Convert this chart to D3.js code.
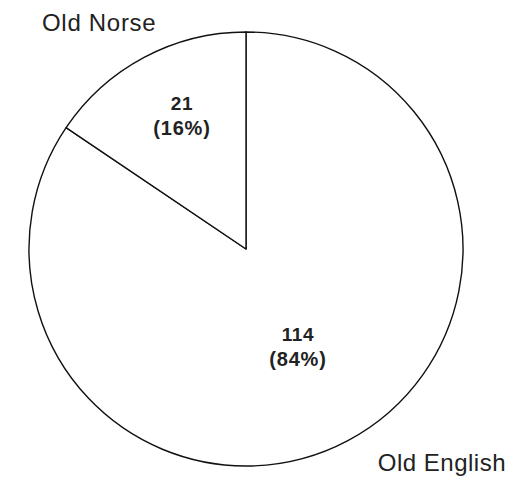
<!DOCTYPE html>
<html>
<head>
<meta charset="utf-8">
<script src="https://cdn.jsdelivr.net/npm/d3@7"></script>
<style>
  body { margin: 0; background: #fff; }
  text { font-family: "Liberation Sans", Arial, sans-serif; fill: #222; }
</style>
</head>
<body>
<div id="chart"></div>
<script>
// data
var categories = ["Old English", "Old Norse"];
var counts = [114, 21];
var percentLabels = ["84%", "16%"];

var width = 521, height = 479;
var cx = 246, cy = 249, radius = 217;

var svg = d3.select('#chart')
    .append('svg')
    .attr('width', width)
    .attr('height', height);

var g = svg.append('g')
    .attr('transform', 'translate(' + cx + ',' + cy + ')');

var pie = d3.pie().sort(null).value(function (d) { return d; });
var arcs = pie(counts);

var arc = d3.arc().innerRadius(0).outerRadius(radius);

g.selectAll('path.slice')
    .data(arcs)
    .enter()
    .append('path')
    .attr('class', 'slice')
    .attr('d', arc)
    .attr('fill', '#fff')
    .attr('stroke', '#111')
    .attr('stroke-width', 1.4)
    .attr('stroke-linejoin', 'round');

// value labels inside slices (radius fraction + small angle nudge per slice)
var labelRadius = [0.51, 0.68];
var labelNudge = [0, 0.04];
var lbl = g.selectAll('g.lbl')
    .data(arcs)
    .enter()
    .append('g')
    .attr('class', 'lbl')
    .attr('transform', function (d, i) {
        var a = (d.startAngle + d.endAngle) / 2 + labelNudge[i];
        var r = radius * labelRadius[i];
        return 'translate(' + (Math.sin(a) * r) + ',' + (-Math.cos(a) * r) + ')';
    });

lbl.append('text')
    .attr('text-anchor', 'middle')
    .attr('y', -6)
    .attr('font-size', 19)
    .attr('font-weight', 'bold')
    .attr('letter-spacing', 0.6)
    .text(function (d, i) { return counts[i]; });

lbl.append('text')
    .attr('text-anchor', 'middle')
    .attr('y', 19)
    .attr('font-size', 20)
    .attr('font-weight', 'bold')
    .attr('letter-spacing', 0.8)
    .text(function (d, i) { return '(' + percentLabels[i] + ')'; });

// category names outside the pie
svg.append('text')
    .attr('x', 42)
    .attr('y', 31)
    .attr('font-size', 24)
    .attr('letter-spacing', 0.7)
    .text(categories[1]);

svg.append('text')
    .attr('x', 506)
    .attr('y', 471)
    .attr('text-anchor', 'end')
    .attr('font-size', 24)
    .attr('letter-spacing', 0.5)
    .text(categories[0]);
</script>
</body>
</html>
